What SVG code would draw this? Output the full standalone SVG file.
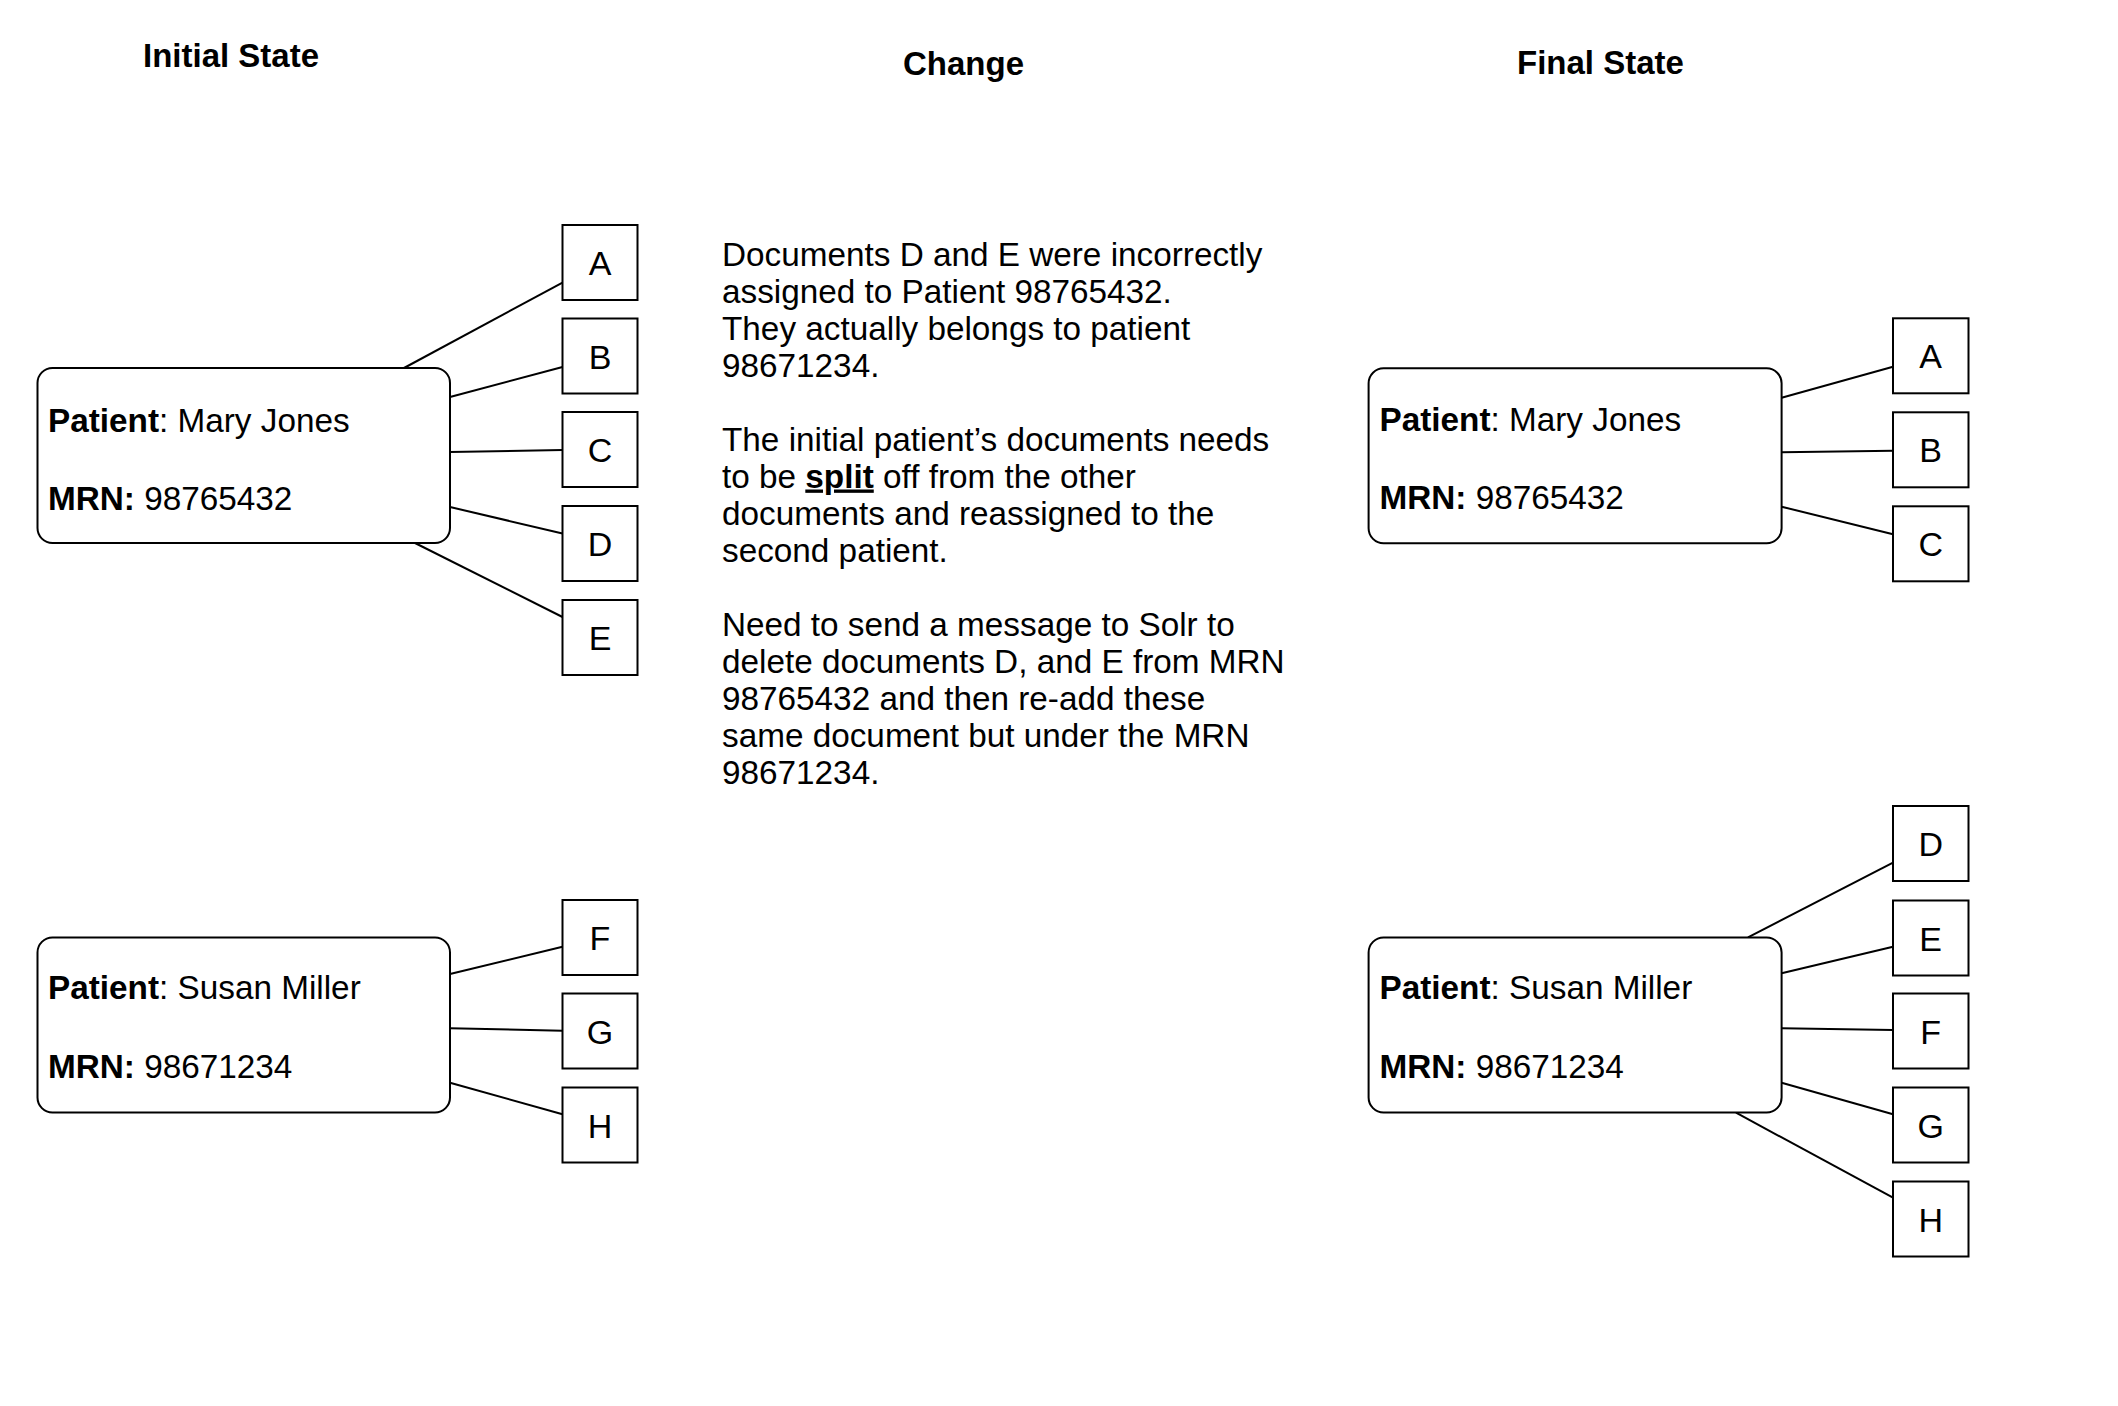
<svg xmlns="http://www.w3.org/2000/svg" width="2118" height="1406" viewBox="0 0 2118 1406">
<style>
text{font-family:"Liberation Sans",Arial,Helvetica,sans-serif;font-size:33.3px;fill:#000}
.title{font-weight:bold;font-size:33px}
.b{font-weight:bold}
.patient{fill:#fff;stroke:#000;stroke-width:2}
.doc{fill:#fff;stroke:#000;stroke-width:2}
.lbl{text-anchor:middle;font-size:34px}
#connectors line{stroke:#000;stroke-width:2}
</style>
<rect width="2118" height="1406" fill="#fff"/>
<text class="title" x="143" y="67">Initial State</text>
<text class="title" x="903" y="75">Change</text>
<text class="title" x="1517" y="74">Final State</text>

<g id="connectors">
<line x1="404" y1="368" x2="562.5" y2="282.6"/>
<line x1="450" y1="397" x2="562.5" y2="367"/>
<line x1="450" y1="452" x2="562.5" y2="450"/>
<line x1="450" y1="507" x2="562.5" y2="533.5"/>
<line x1="415" y1="543" x2="562.5" y2="617"/>
<line x1="450" y1="974" x2="562.5" y2="946.7"/>
<line x1="450" y1="1028.3" x2="562.5" y2="1030.7"/>
<line x1="450" y1="1082.7" x2="562.5" y2="1114.3"/>
<line x1="1781.6" y1="397.7" x2="1893" y2="366.7"/>
<line x1="1781.6" y1="452.3" x2="1893" y2="450.7"/>
<line x1="1781.6" y1="506.7" x2="1893" y2="534.3"/>
<line x1="1748" y1="937.3" x2="1893" y2="862.7"/>
<line x1="1781.6" y1="973.3" x2="1893" y2="946.7"/>
<line x1="1781.6" y1="1028.3" x2="1893" y2="1030"/>
<line x1="1781.6" y1="1082.7" x2="1893" y2="1114.3"/>
<line x1="1736" y1="1112.7" x2="1893" y2="1197.7"/>
</g>

<g id="patient-mary-initial">
<rect class="patient" x="37.5" y="368" width="412.5" height="175" rx="15"/>
<text x="48" y="431.5"><tspan class="b">Patient</tspan>: Mary Jones</text>
<text x="48" y="509.5"><tspan class="b">MRN:</tspan> 98765432</text>
</g>
<g id="patient-susan-initial">
<rect class="patient" x="37.5" y="937.5" width="412.5" height="175" rx="15"/>
<text x="48" y="999"><tspan class="b">Patient</tspan>: Susan Miller</text>
<text x="48" y="1077.5"><tspan class="b">MRN:</tspan> 98671234</text>
</g>

<g id="doc-A-initial"><rect class="doc" x="562.5" y="225" width="75" height="75"/><text class="lbl" x="600" y="275">A</text></g>
<g id="doc-B-initial"><rect class="doc" x="562.5" y="318.5" width="75" height="75"/><text class="lbl" x="600" y="368.5">B</text></g>
<g id="doc-C-initial"><rect class="doc" x="562.5" y="412" width="75" height="75"/><text class="lbl" x="600" y="462">C</text></g>
<g id="doc-D-initial"><rect class="doc" x="562.5" y="506" width="75" height="75"/><text class="lbl" x="600" y="556">D</text></g>
<g id="doc-E-initial"><rect class="doc" x="562.5" y="600" width="75" height="75"/><text class="lbl" x="600" y="650">E</text></g>
<g id="doc-F-initial"><rect class="doc" x="562.5" y="900" width="75" height="75"/><text class="lbl" x="600" y="950">F</text></g>
<g id="doc-G-initial"><rect class="doc" x="562.5" y="993.5" width="75" height="75"/><text class="lbl" x="600" y="1043.5">G</text></g>
<g id="doc-H-initial"><rect class="doc" x="562.5" y="1087.5" width="75" height="75"/><text class="lbl" x="600" y="1137.5">H</text></g>

<g id="change-text">
<text x="722" y="265.5">Documents D and E were incorrectly</text>
<text x="722" y="302.5">assigned to Patient 98765432.</text>
<text x="722" y="339.5">They actually belongs to patient</text>
<text x="722" y="376.5">98671234.</text>
<text x="722" y="450.5">The initial patient’s documents needs</text>
<text x="722" y="487.5">to be <tspan class="b" text-decoration="underline">split</tspan> off from the other</text>
<text x="722" y="524.5">documents and reassigned to the</text>
<text x="722" y="561.5">second patient.</text>
<text x="722" y="635.5">Need to send a message to Solr to</text>
<text x="722" y="672.5">delete documents D, and E from MRN</text>
<text x="722" y="709.5">98765432 and then re-add these</text>
<text x="722" y="746.5">same document but under the MRN</text>
<text x="722" y="783.5">98671234.</text>
</g>

<g id="patient-mary-final">
<rect class="patient" x="1368.6" y="368.3" width="413" height="175" rx="15"/>
<text x="1379.5" y="431"><tspan class="b">Patient</tspan>: Mary Jones</text>
<text x="1379.5" y="509"><tspan class="b">MRN:</tspan> 98765432</text>
</g>
<g id="patient-susan-final">
<rect class="patient" x="1368.6" y="937.5" width="413" height="175" rx="15"/>
<text x="1379.5" y="999"><tspan class="b">Patient</tspan>: Susan Miller</text>
<text x="1379.5" y="1077.5"><tspan class="b">MRN:</tspan> 98671234</text>
</g>

<g id="doc-A-final"><rect class="doc" x="1893" y="318.3" width="75.5" height="75"/><text class="lbl" x="1930.7" y="368.3">A</text></g>
<g id="doc-B-final"><rect class="doc" x="1893" y="412.3" width="75.5" height="75"/><text class="lbl" x="1930.7" y="462.3">B</text></g>
<g id="doc-C-final"><rect class="doc" x="1893" y="506.3" width="75.5" height="75"/><text class="lbl" x="1930.7" y="556.3">C</text></g>
<g id="doc-D-final"><rect class="doc" x="1893" y="806" width="75.5" height="75"/><text class="lbl" x="1930.7" y="856">D</text></g>
<g id="doc-E-final"><rect class="doc" x="1893" y="900.5" width="75.5" height="75"/><text class="lbl" x="1930.7" y="950.5">E</text></g>
<g id="doc-F-final"><rect class="doc" x="1893" y="993.5" width="75.5" height="75"/><text class="lbl" x="1930.7" y="1043.5">F</text></g>
<g id="doc-G-final"><rect class="doc" x="1893" y="1087.5" width="75.5" height="75"/><text class="lbl" x="1930.7" y="1137.5">G</text></g>
<g id="doc-H-final"><rect class="doc" x="1893" y="1181.5" width="75.5" height="75"/><text class="lbl" x="1930.7" y="1231.5">H</text></g>
</svg>
